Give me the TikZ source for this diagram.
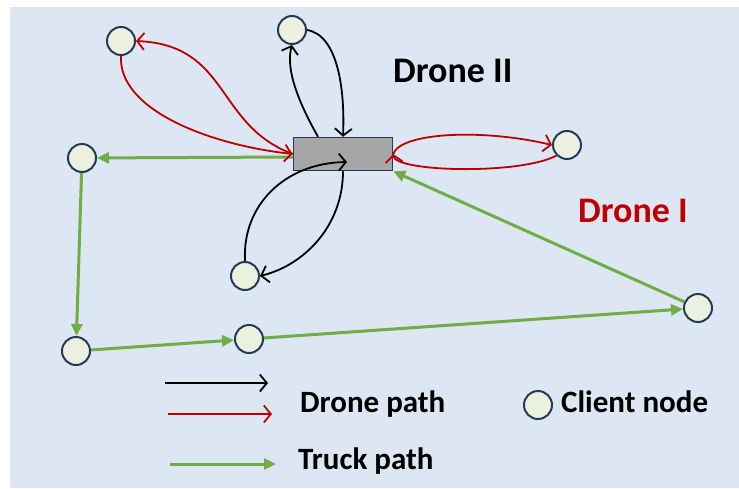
\documentclass[tikz,border=0pt]{standalone}
\usepackage{fontspec}
\setmainfont{Carlito}
\usetikzlibrary{arrows.meta}
\definecolor{bgblue}{HTML}{DCE7F3}
\definecolor{clientfill}{HTML}{EBF1DE}
\definecolor{navy}{HTML}{243B55}
\definecolor{truckgreen}{HTML}{70AD47}
\definecolor{dronered}{HTML}{C00000}
\definecolor{depotgray}{HTML}{A6A6A6}
\tikzset{
  client/.style = {circle, draw = navy, fill = clientfill, line width = 2pt, minimum size = 28pt, inner sep = 0pt},
  depot/.style = {rectangle, draw = navy, fill = depotgray, line width = 1.5pt, minimum width = 99pt, minimum height = 33pt},
  truck/.style = {truckgreen, line width = 3pt, -{Triangle[length = 12pt, width = 11pt]}},
  droneone/.style = {dronered, line width = 1.8pt, -{Straight Barb[length = 7pt, width = 17pt]}},
  dronetwo/.style = {black, line width = 1.8pt, -{Straight Barb[length = 7pt, width = 17pt]}},
  bigtext/.style = {anchor = base west, inner sep = 0pt, font = \fontsize{36}{36}\selectfont\bfseries},
  keytext/.style = {anchor = base west, inner sep = 0pt, font = \fontsize{31}{31}\selectfont\bfseries}
}
\begin{document}
\begin{tikzpicture}[x = 1pt, y = -1pt]
	\useasboundingbox (0, 0) rectangle (739, 488);
	\fill[bgblue] (10, 7) rectangle (739, 488);
	% depot and clients
	\node[depot] (dep) at (343, 154) {};
	\node[client] (A) at (121, 41) {};
	\node[client] (B) at (292, 30) {};
	\node[client] (C) at (82, 158) {};
	\node[client] (D) at (567, 145) {};
	\node[client] (E) at (245, 276) {};
	\node[client] (F) at (76, 351) {};
	\node[client] (G) at (249, 339) {};
	\node[client] (H) at (698, 308) {};
	% truck tour
	\draw[truck] ([yshift = -3pt]dep.west) -- (C);
	\draw[truck] (C) -- (F);
	\draw[truck] (F) -- (G);
	\draw[truck] (G) -- (H);
	\draw[truck] (H) -- (dep.south east);
	% drone I
	\draw[droneone] (A.south) .. controls (118, 110) and (210, 145) .. (dep.west);
	\draw[droneone] (dep.west) .. controls (215, 125) and (230, 45) .. (A.east);
	\draw[droneone] (dep.east) .. controls (400, 133) and (480, 128) .. (D.west);
	\draw[droneone] (D.south west) .. controls (520, 175) and (395, 172) .. (dep.east);
	% drone II
	\draw[dronetwo] ([xshift = -25pt]dep.north) .. controls (300, 105) and (285, 70) .. (B.south);
	\draw[dronetwo] (B.east) .. controls (338, 35) and (345, 90) .. (dep.north);
	\coordinate (inE) at (347, 162);
	\draw[dronetwo] (E.north) .. controls (242, 205) and (285, 163) .. (inE);
	\draw[dronetwo] (dep.south) .. controls (343, 225) and (305, 265) .. (E.east);
	% labels
	\node[bigtext] (lab2) at (393, 82) {Drone II};
	\node[bigtext, text = dronered] (lab1) at (578, 222) {Drone I};
	% legend
	\coordinate (kb1) at (165, 383);
	\coordinate (kb2) at (268, 383);
	\coordinate (kr1) at (168, 414);
	\coordinate (kr2) at (272, 414);
	\coordinate (kg1) at (170, 464);
	\coordinate (kg2) at (276, 464);
	\draw[dronetwo] (kb1) -- (kb2);
	\draw[droneone] (kr1) -- (kr2);
	\draw[truck] (kg1) -- (kg2);
	\node[keytext] (kdrone) at (300, 412) {Drone path};
	\node[keytext] (ktruck) at (298, 469) {Truck path};
	\node[client] (kclient) at (538, 405) {};
	\node[keytext] (kcltext) at (561, 412) {Client node};
\end{tikzpicture}
\end{document}
